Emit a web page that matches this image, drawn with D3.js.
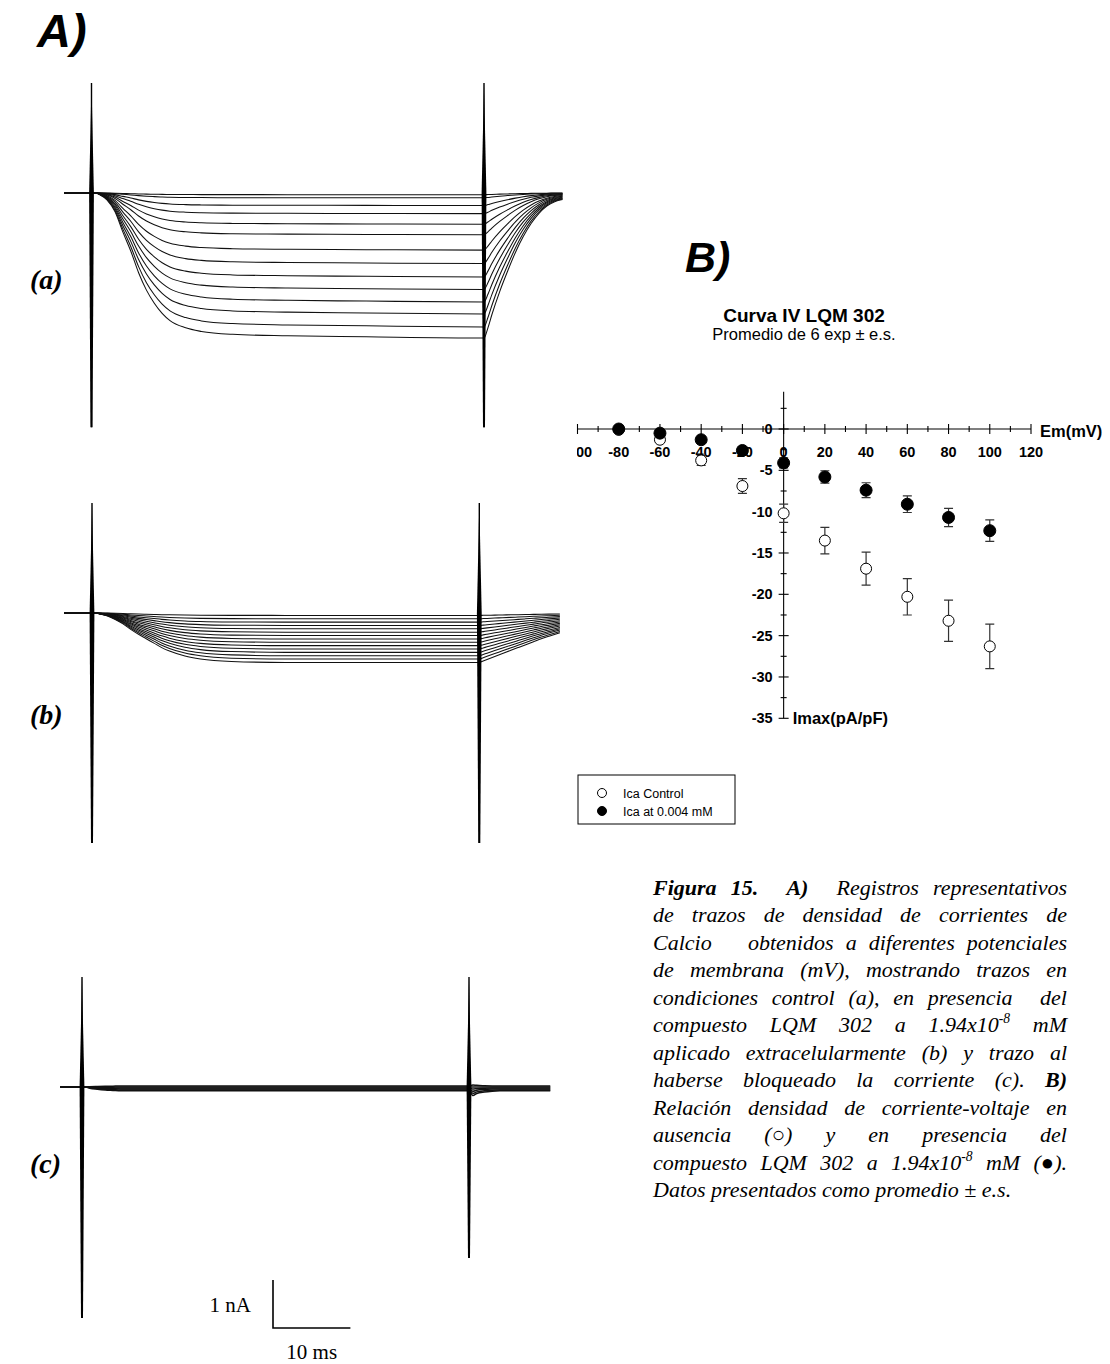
<!DOCTYPE html>
<html><head><meta charset="utf-8">
<script src="https://cdn.jsdelivr.net/npm/d3@7"></script>
<style>body{margin:0;background:#fff} svg{display:block}</style>
</head><body>
<svg id="fig" width="1110" height="1364"></svg>
<script>
// ================= DATA =================
// Panel B: I-V curve (Imax in pA/pF vs Em in mV)
const ivVoltages    = [-80, -60, -40, -20, 0, 20, 40, 60, 80, 100];
const icaControl    = [-0.1, -1.3, -3.8, -6.9, -10.2, -13.5, -16.9, -20.3, -23.2, -26.3];
const icaControlErr = [0.2, 0.3, 0.6, 0.9, 1.1, 1.6, 2.0, 2.2, 2.5, 2.7];
const icaDrug       = [0.0, -0.5, -1.3, -2.6, -4.1, -5.8, -7.4, -9.1, -10.7, -12.3];
const icaDrugErr    = [0.1, 0.2, 0.2, 0.3, 0.6, 0.75, 0.9, 1.0, 1.1, 1.3];
const xTickValues   = [-100, -80, -60, -40, -20, 0, 20, 40, 60, 80, 100, 120];
const xMinorTicks   = [-90, -70, -50, -30, -10, 10, 30, 50, 70, 90, 110];
const yTickValues   = [0, -5, -10, -15, -20, -25, -30, -35];
const yMinorTicks   = [2.5, -2.5, -7.5, -12.5, -17.5, -22.5, -27.5, -32.5];
const legendLabels  = ["Ica Control", "Ica at 0.004 mM"];

// Panel A: current traces (time in ms, inward current in nA, read from the records)
const timesMs = [-3.6, 0, 0.5, 1, 2, 3, 4, 5, 6, 7, 8, 9, 10, 12, 14, 18, 25, 35, 50,
                 50.5, 51, 52, 53, 54, 55, 56, 57, 58, 59, 60.5];
// normalised time course of the traces (fraction of the end-of-pulse amplitude)
const shapeA = [0, 0, 0, 0.01, 0.05, 0.13, 0.27, 0.40, 0.55, 0.67, 0.76, 0.83, 0.88, 0.93, 0.955, 0.975, 0.985, 0.992, 1.0,
                0.93, 0.84, 0.68, 0.54, 0.41, 0.30, 0.21, 0.14, 0.09, 0.06, 0.045];
const shapeB = [0, 0, 0, 0.02, 0.06, 0.13, 0.22, 0.33, 0.43, 0.52, 0.61, 0.70, 0.77, 0.87, 0.93, 0.98, 1.0, 1.0, 1.0,
                0.97, 0.94, 0.88, 0.82, 0.76, 0.70, 0.64, 0.58, 0.52, 0.47, 0.40];
const shapeC = [0, 0, 0, 0.3, 0.6, 0.8, 0.9, 1.0, 1.0, 1.0, 1.0, 1.0, 1.0, 1.0, 1.0, 1.0, 1.0, 1.0, 1.0,
                2.2, 1.7, 1.3, 1.1, 1.0, 1.0, 1.0, 1.0, 1.0, 1.0, 1.0];
// end-of-pulse amplitude of each trace (nA)
const ampsA = [0.035, 0.10, 0.26, 0.43, 0.65, 0.87, 1.19, 1.47, 1.75, 2.01, 2.27, 2.52, 2.79, 3.02];
const ampsB = [0.05, 0.12, 0.19, 0.26, 0.33, 0.40, 0.47, 0.54, 0.61, 0.68, 0.75, 0.82, 0.89, 0.96, 1.03];
const ampsC = [-0.02, 0.0, 0.02, 0.04, 0.06, 0.08];
// record windows (ms)
const recordStart = [-3.5, -3.6, -2.8];
const recordEnd   = [60.0, 60.4, 60.5];
// capacitive artefacts at pulse on/off: [outward peak, inward peak] in nA
const spikeTimes = [0, 50];
const spikesA = [[2.29, 4.88], [2.29, 4.88]];
const spikesB = [[2.29, 4.79], [2.29, 4.79]];
const spikesC = [[2.29, 4.81], [2.29, 3.56]];
const scaleBarNA = 1, scaleBarMs = 10;

// Caption (Spanish, as in the original)
const captionLines = [
  "**Figura** **15.**  **A)**  Registros representativos",
  "de trazos de densidad de corrientes de",
  "Calcio   obtenidos a diferentes potenciales",
  "de membrana (mV), mostrando trazos en",
  "condiciones control (a), en presencia  del",
  "compuesto LQM 302 a 1.94x10^-8 mM",
  "aplicado extracelularmente (b) y trazo al",
  "haberse bloqueado la corriente (c). **B)**",
  "Relación densidad de corriente-voltaje en",
  "ausencia (○) y en presencia del",
  "compuesto LQM 302 a 1.94x10^-8 mM (●).",
  "Datos presentados como promedio ± e.s."
];

// ================= DRAWING =================
const SERIF = '"Liberation Serif","Times New Roman",Times,serif';
const SANS  = '"Liberation Sans",Arial,Helvetica,sans-serif';
const svg = d3.select('#fig');

// ---- Panel A headers ----
svg.append('text').attr('x', 37).attr('y', 47).attr('font-family', SANS)
  .attr('font-size', 47).attr('font-weight', 'bold').attr('font-style', 'italic').text('A)');

const panels = [
  {label: '(a)', x0: 91.5, x50: 484,   base: 193,  amps: ampsA, shape: shapeA, spikes: spikesA, labelY: 289},
  {label: '(b)', x0: 92,   x50: 479.3, base: 613,  amps: ampsB, shape: shapeB, spikes: spikesB, labelY: 724},
  {label: '(c)', x0: 82,   x50: 469,   base: 1087, amps: ampsC, shape: shapeC, spikes: spikesC, labelY: 1173}
];
const pxPerNA = 48;

panels.forEach((p, pi) => {
  const x = d3.scaleLinear().domain([0, 50]).range([p.x0, p.x50]);
  const y = d3.scaleLinear().domain([0, 1]).range([p.base, p.base + pxPerNA]);
  p.x = x; p.y = y;
  const g = svg.append('g');
  const times = timesMs.slice();
  times[0] = recordStart[pi]; times[times.length - 1] = recordEnd[pi];
  const line = d3.line().x(d => x(d[0])).y(d => y(d[1])).curve(d3.curveMonotoneX);
  p.amps.forEach(a => {
    g.append('path').attr('d', line(times.map((t, i) => [t, a * p.shape[i]])))
      .attr('fill', 'none').attr('stroke', '#111').attr('stroke-width', pi === 2 ? 1.5 : 1.05);
  });
  // capacitive spikes
  spikeTimes.forEach((t, si) => {
    const [up, down] = p.spikes[si];
    const xs = x(t);
    g.append('path')
      .attr('d', `M${xs - 2.4},${y(0)} L${xs},${y(-up)} L${xs + 2.4},${y(0)} L${xs + 1},${y(down)} L${xs - 1},${y(down)} Z`)
      .attr('fill', '#000');
    g.append('line').attr('x1', xs).attr('x2', xs).attr('y1', y(-up)).attr('y2', y(down))
      .attr('stroke', '#000').attr('stroke-width', 1.4);
  });
  svg.append('text').attr('x', 30).attr('y', p.labelY).attr('font-family', SERIF)
    .attr('font-size', 28).attr('font-weight', 'bold').attr('font-style', 'italic').text(p.label);
});

// scale bar (uses panel c scales)
{
  const p = panels[2];
  const bx = 273, by = 1328;
  const w = p.x(scaleBarMs) - p.x(0);
  const h = p.y(scaleBarNA) - p.y(0);
  svg.append('path').attr('d', `M${bx},${by - h} L${bx},${by} L${bx + w},${by}`)
    .attr('fill', 'none').attr('stroke', '#000').attr('stroke-width', 1.6);
  svg.append('text').attr('x', bx - 22).attr('y', by - 16).attr('text-anchor', 'end')
    .attr('font-family', SERIF).attr('font-size', 21).text(scaleBarNA + ' nA');
  svg.append('text').attr('x', bx + w / 2).attr('y', 1359).attr('text-anchor', 'middle')
    .attr('font-family', SERIF).attr('font-size', 21).text(scaleBarMs + ' ms');
}

// ---- Panel B ----
svg.append('text').attr('x', 685).attr('y', 272).attr('font-family', SANS)
  .attr('font-size', 43).attr('font-weight', 'bold').attr('font-style', 'italic').text('B)');
svg.append('text').attr('x', 804).attr('y', 321.5).attr('text-anchor', 'middle').attr('font-family', SANS)
  .attr('font-size', 19).attr('font-weight', 'bold').text('Curva IV LQM 302');
svg.append('text').attr('x', 804).attr('y', 340).attr('text-anchor', 'middle').attr('font-family', SANS)
  .attr('font-size', 16.5).text('Promedio de 6 exp ± e.s.');

const xS = d3.scaleLinear().domain([-100, 120]).range([577.5, 1031]);
const yS = d3.scaleLinear().domain([0, -35]).range([429, 718.3]);
const gB = svg.append('g');

// clip for x tick labels (left-most label is cut in the original)
svg.append('defs').append('clipPath').attr('id', 'xlabClip')
  .append('rect').attr('x', xS(-100) - 0.5).attr('y', 430).attr('width', 520).attr('height', 40);

// tick labels (under the axes and markers)
gB.append('g').attr('clip-path', 'url(#xlabClip)').selectAll('text').data(xTickValues).join('text')
  .attr('x', d => xS(d)).attr('y', yS(0) + 28).attr('text-anchor', 'middle')
  .attr('font-family', SANS).attr('font-size', 14.5).attr('font-weight', 'bold').text(d => d);
gB.append('g').selectAll('text').data(yTickValues).join('text')
  .attr('x', xS(0) - 11).attr('y', d => yS(d) + 5).attr('text-anchor', 'end')
  .attr('font-family', SANS).attr('font-size', 14.5).attr('font-weight', 'bold').text(d => d);

// axes
const axisG = gB.append('g').attr('stroke', '#000').attr('stroke-width', 1.1);
axisG.append('line').attr('x1', xS(-100)).attr('x2', xS(120)).attr('y1', yS(0)).attr('y2', yS(0));
axisG.append('line').attr('x1', xS(0)).attr('x2', xS(0)).attr('y1', yS(4.5)).attr('y2', yS(-35));
axisG.selectAll('.xt').data(xTickValues).join('line').attr('class', 'xt')
  .attr('x1', d => xS(d)).attr('x2', d => xS(d)).attr('y1', yS(0) - 5).attr('y2', yS(0) + 5);
axisG.selectAll('.xm').data(xMinorTicks).join('line').attr('class', 'xm')
  .attr('x1', d => xS(d)).attr('x2', d => xS(d)).attr('y1', yS(0) - 3).attr('y2', yS(0) + 3);
axisG.selectAll('.yt').data(yTickValues).join('line').attr('class', 'yt')
  .attr('x1', xS(0) - 5).attr('x2', xS(0) + 5).attr('y1', d => yS(d)).attr('y2', d => yS(d));
axisG.selectAll('.ym').data(yMinorTicks).join('line').attr('class', 'ym')
  .attr('x1', xS(0) - 3).attr('x2', xS(0) + 3).attr('y1', d => yS(d)).attr('y2', d => yS(d));

gB.append('text').attr('x', 1040).attr('y', yS(0) + 8).attr('font-family', SANS)
  .attr('font-size', 16.5).attr('font-weight', 'bold').text('Em(mV)');
gB.append('text').attr('x', xS(0) + 9).attr('y', yS(-35) + 6).attr('font-family', SANS)
  .attr('font-size', 16.5).attr('font-weight', 'bold').text('Imax(pA/pF)');

// error bars + markers
function series(vals, errs, filled) {
  const g = gB.append('g');
  vals.forEach((v, i) => {
    const e = errs[i], cx = xS(ivVoltages[i]);
    g.append('path')
      .attr('d', `M${cx},${yS(v + e)} L${cx},${yS(v - e)} M${cx - 4.5},${yS(v + e)} L${cx + 4.5},${yS(v + e)} M${cx - 4.5},${yS(v - e)} L${cx + 4.5},${yS(v - e)}`)
      .attr('stroke', '#333').attr('stroke-width', 1.2).attr('fill', 'none');
  });
  g.selectAll('circle').data(vals).join('circle')
    .attr('cx', (d, i) => xS(ivVoltages[i])).attr('cy', d => yS(d))
    .attr('r', filled ? 6 : 5.5)
    .attr('fill', filled ? '#000' : '#fff').attr('stroke', '#000').attr('stroke-width', 1);
}
series(icaControl, icaControlErr, false);
series(icaDrug, icaDrugErr, true);

// legend
{
  const lg = svg.append('g');
  lg.append('rect').attr('x', 578).attr('y', 775).attr('width', 157).attr('height', 49)
    .attr('fill', '#fff').attr('stroke', '#000').attr('stroke-width', 1);
  legendLabels.forEach((t, i) => {
    const cy = 793 + i * 18;
    lg.append('circle').attr('cx', 602).attr('cy', cy).attr('r', 4.5)
      .attr('fill', i ? '#000' : '#fff').attr('stroke', '#000').attr('stroke-width', 1);
    lg.append('text').attr('x', 623).attr('y', cy + 4.5).attr('font-family', SANS)
      .attr('font-size', 12.5).text(t);
  });
}

// ---- Caption (justified) ----
{
  const X0 = 653, X1 = 1067, Y0 = 894.5, LH = 27.5, FS = 22;
  const cg = svg.append('g').attr('font-family', SERIF).attr('font-size', FS).attr('font-style', 'italic');
  captionLines.forEach((ln, li) => {
    const tokens = ln.split(' ');
    const words = []; let pending = 0;
    tokens.forEach(tok => {
      if (tok === '') { pending++; return; }
      words.push({tok, gapBefore: words.length ? pending + 1 : 0});
      pending = 0;
    });
    const y = Y0 + li * LH;
    const els = words.map(w => {
      const t = cg.append('text').attr('y', y);
      let s = w.tok, bold = false;
      if (s.startsWith('**') && s.endsWith('**')) { bold = true; s = s.slice(2, -2); }
      const parts = s.split('^');
      t.append('tspan').attr('font-weight', bold ? 'bold' : null).text(parts[0]);
      if (parts[1]) t.append('tspan').attr('font-size', FS * 0.62).attr('dy', -9).text(parts[1]);
      w.width = t.node().getComputedTextLength();
      return t;
    });
    const total = d3.sum(words, w => w.width);
    const units = d3.sum(words, w => w.gapBefore);
    const last = li === captionLines.length - 1;
    const unit = last ? FS * 0.25 : (X1 - X0 - total) / units;
    let cx = X0;
    words.forEach((w, i) => {
      cx += w.gapBefore * unit;
      els[i].attr('x', cx);
      cx += w.width;
    });
  });
}
</script>
</body></html>
